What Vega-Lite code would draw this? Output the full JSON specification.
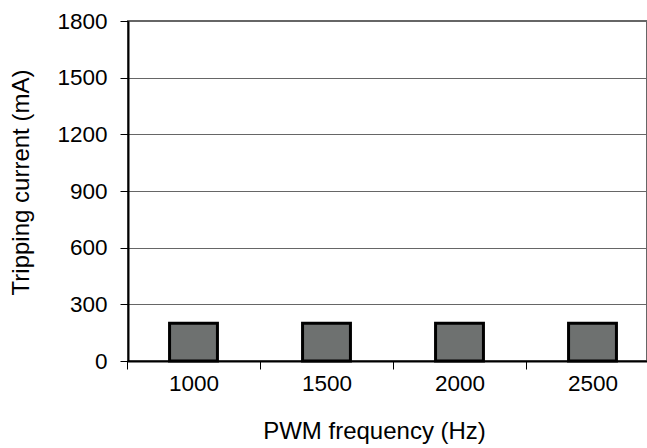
{
  "$schema": "https://vega.github.io/schema/vega-lite/v6.json",
  "autosize": {"type": "none"},
  "width": 519,
  "height": 340,
  "padding": {"left": 128, "top": 21, "right": 0, "bottom": 87},
  "background": "white",
  "config": {
    "view": {"stroke": "#666666", "strokeWidth": 2},
    "font": "Liberation Sans"
  },
  "data": {
    "values": [
      {"freq": "1000", "current": 200},
      {"freq": "1500", "current": 200},
      {"freq": "2000", "current": 200},
      {"freq": "2500", "current": 200}
    ]
  },
  "mark": {"type": "bar", "fill": "#6e7170", "stroke": "black", "strokeWidth": 3, "width": {"band": 0.36}, "clip": false},
  "encoding": {
    "x": {
      "field": "freq",
      "type": "ordinal",
      "sort": null,
      "scale": {"range": [-1, 531], "paddingInner": 0, "paddingOuter": 0},
      "axis": {
        "title": "PWM frequency (Hz)",
        "titleFont": "Liberation Sans",
        "titleFontSize": 24,
        "titleFontWeight": "normal",
        "titleColor": "black",
        "titleX": 246,
        "titleY": 77,
        "titleBaseline": "alphabetic",
        "labelAngle": 0,
        "labelFont": "Liberation Sans",
        "labelFontSize": 22.5,
        "labelColor": "black",
        "labelPadding": 3,
        "tickBand": "extent",
        "tickSize": 8,
        "tickColor": "black",
        "tickWidth": 1,
        "domainColor": "black",
        "domainWidth": 2,
        "grid": false
      }
    },
    "y": {
      "field": "current",
      "type": "quantitative",
      "scale": {"domain": [0, 1800], "nice": false},
      "axis": {
        "title": "Tripping current (mA)",
        "titleFont": "Liberation Sans",
        "titleFontSize": 24,
        "titleFontWeight": "normal",
        "titleColor": "black",
        "titleX": -100,
        "titleY": 161,
        "titleBaseline": "alphabetic",
        "values": [0, 300, 600, 900, 1200, 1500, 1800],
        "format": "d",
        "labelFont": "Liberation Sans",
        "labelFontSize": 22.5,
        "labelColor": "black",
        "labelPadding": 13,
        "tickSize": 8,
        "tickColor": "black",
        "tickWidth": 1,
        "domainColor": "black",
        "domainWidth": 2,
        "grid": true,
        "gridColor": "#666666",
        "gridWidth": 1
      }
    }
  }
}
